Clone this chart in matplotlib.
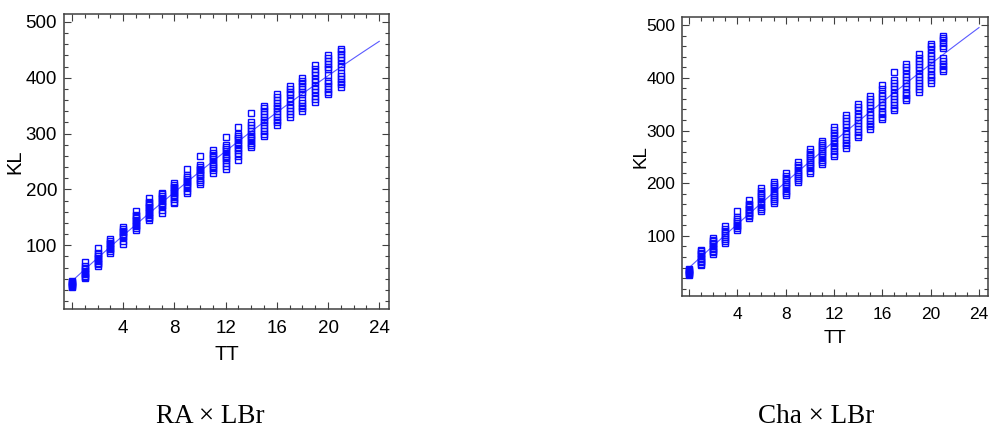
import numpy as np
import matplotlib
matplotlib.use("Agg")
import matplotlib.pyplot as plt
from matplotlib.ticker import MultipleLocator

# TT (x) values, one column of KL readings per TT
tt = list(range(22))

# RA x LBr : KL readings per TT column
kl_ra = [
    [25, 27, 29, 31, 33, 35, 37],
    [41, 43, 45, 48, 51, 54, 57, 60, 63, 71],
    [63, 66, 69, 72, 75, 78, 81, 84, 87, 95],
    [87, 90, 93, 96, 99, 102, 105, 108, 111],
    [103, 108, 114, 117, 120, 123, 126, 129, 132],
    [128, 131, 134, 137, 140, 143, 146, 149, 152, 155, 161],
    [145, 148, 151, 154, 157, 160, 163, 166, 169, 172, 175, 178, 184],
    [158, 164, 170, 173, 176, 179, 182, 185, 188, 191, 194],
    [175, 178, 182, 186, 190, 193, 196, 199, 202, 205, 208, 211],
    [194, 198, 202, 206, 210, 213, 216, 219, 223, 226, 236],
    [209, 213, 217, 221, 225, 228, 231, 234, 237, 240, 244, 259],
    [230, 234, 238, 242, 246, 250, 254, 258, 262, 266, 271],
    [236, 242, 248, 252, 256, 260, 264, 268, 272, 276, 280, 294],
    [253, 260, 265, 270, 275, 280, 284, 288, 292, 296, 300, 312],
    [276, 280, 284, 288, 292, 296, 300, 305, 310, 315, 320, 336],
    [295, 300, 305, 310, 315, 320, 325, 330, 335, 340, 345, 350],
    [315, 320, 325, 330, 335, 340, 345, 350, 355, 360, 365, 370],
    [330, 335, 340, 345, 352, 358, 364, 370, 375, 380, 386],
    [340, 345, 350, 355, 360, 370, 375, 380, 385, 390, 395, 400],
    [357, 362, 368, 374, 380, 386, 392, 398, 404, 410, 416, 423],
    [370, 375, 380, 385, 390, 395, 405, 415, 420, 425, 430, 435, 440],
    [383, 388, 393, 398, 403, 408, 420, 425, 432, 437, 442, 447, 451],
]

# Cha x LBr : KL readings per TT column
kl_cha = [
    [25, 27, 29, 31, 33, 35, 37],
    [44, 47, 50, 53, 56, 59, 62, 65, 68, 71, 74],
    [66, 69, 72, 75, 78, 81, 84, 87, 90, 93, 96],
    [87, 90, 94, 98, 102, 106, 110, 114, 118],
    [112, 115, 118, 121, 124, 128, 132, 136, 147],
    [134, 137, 140, 143, 146, 149, 152, 155, 158, 161, 168],
    [148, 151, 155, 160, 165, 170, 174, 178, 182, 186, 190],
    [162, 166, 170, 174, 178, 182, 186, 190, 194, 198, 202],
    [178, 182, 186, 190, 194, 198, 202, 206, 210, 214, 219],
    [202, 206, 210, 214, 218, 222, 226, 230, 234, 240],
    [220, 224, 228, 232, 236, 240, 244, 248, 252, 256, 260, 264],
    [237, 241, 245, 249, 253, 257, 261, 265, 269, 273, 277, 281],
    [251, 256, 261, 266, 271, 276, 281, 286, 291, 296, 301, 307],
    [267, 272, 277, 282, 288, 294, 300, 306, 312, 318, 324, 330],
    [287, 292, 297, 302, 308, 314, 320, 326, 332, 338, 344, 350],
    [303, 308, 313, 318, 324, 330, 336, 342, 348, 354, 360, 366],
    [321, 326, 331, 336, 342, 348, 354, 360, 366, 372, 378, 386],
    [338, 343, 348, 354, 360, 366, 372, 378, 384, 390, 395, 411],
    [357, 362, 367, 372, 378, 384, 390, 396, 402, 408, 414, 420, 427],
    [374, 379, 384, 390, 396, 402, 408, 414, 420, 426, 432, 438, 446],
    [391, 396, 401, 406, 412, 418, 424, 430, 436, 442, 448, 454, 460, 464],
    [412, 417, 422, 427, 432, 437, 456, 461, 466, 471, 476, 480],
]

captions = ["RA \u00d7 LBr", "Cha \u00d7 LBr"]


def draw_panel(ax, cols, xlim, ylim, fs_tick, fs_lab, xpad, ypad):
    xs, ys = [], []
    for x, vals in zip(tt, cols):
        xs += [x] * len(vals)
        ys += vals
    xs = np.array(xs, float)
    ys = np.array(ys, float)
    # fitted curve
    coef = np.polyfit(xs, ys, 2)
    xf = np.linspace(0, 24, 100)
    ax.plot(xf, np.polyval(coef, xf), color="#5a5aff", lw=0.8, zorder=2)
    ax.plot(xs, ys, ls="none", marker="s", ms=3.8, mfc="none",
            mec="#0a0aff", mew=1.0, zorder=3)

    ax.set_xlim(*xlim)
    ax.set_ylim(*ylim)
    ax.set_xticks(range(0, 25, 4))
    ax.set_xticklabels([str(i) if i > 0 else "" for i in range(0, 25, 4)])
    ax.xaxis.set_minor_locator(MultipleLocator(1))
    ax.set_yticks(range(100, 501, 100))
    ax.yaxis.set_minor_locator(MultipleLocator(20))
    ax.tick_params(which="both", direction="in", top=True, right=True,
                   color="#404040", labelsize=fs_tick)
    ax.tick_params(which="major", length=5, width=0.8)
    ax.tick_params(which="minor", length=3, width=0.8)
    ax.tick_params(axis="x", which="major", pad=8)
    ax.tick_params(axis="y", which="major", pad=5)
    for s in ax.spines.values():
        s.set_color("#404040")
        s.set_linewidth(1.1)
    ax.set_xlabel("TT", fontsize=fs_lab, labelpad=xpad)
    ax.set_ylabel("KL", fontsize=fs_lab, labelpad=ypad)


plt.rcParams["font.family"] = ["Liberation Sans", "DejaVu Sans"]

fig = plt.figure(figsize=(9.89, 4.30), dpi=100)
ax1 = fig.add_axes([0.0647, 0.2814, 0.3286, 0.686])
ax2 = fig.add_axes([0.6899, 0.3116, 0.3094, 0.6496])

draw_panel(ax1, kl_ra, (-0.63, 24.76), (-14, 514), 13.5, 14.5, 6, 1)
draw_panel(ax2, kl_cha, (-0.55, 24.77), (-14, 516), 12.5, 13.5, 6, -2)

fig.text(210 / 989, 1 - 423 / 430, captions[0], ha="center", va="baseline",
         fontsize=19.5, family="Liberation Serif")
fig.text(816 / 989, 1 - 423 / 430, captions[1], ha="center", va="baseline",
         fontsize=19.5, family="Liberation Serif")

fig.savefig("out.png", dpi=100)
